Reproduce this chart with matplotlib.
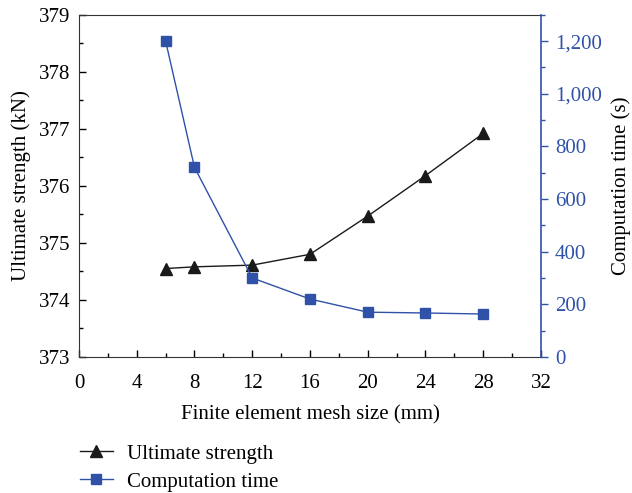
import matplotlib
matplotlib.use('Agg')
import matplotlib.pyplot as plt
from matplotlib.ticker import MultipleLocator, FuncFormatter
from matplotlib.lines import Line2D

plt.rcParams['font.family'] = ['Liberation Serif', 'DejaVu Serif']
plt.rcParams['font.size'] = 15

# mesh size (mm) vs. ultimate strength and computation time
mesh_size = [6, 8, 12, 16, 20, 24, 28]
ultimate_strength = [374.55, 374.58, 374.61, 374.80, 375.47, 376.18, 376.92]
computation_time = [1200, 720, 300, 220, 170, 167, 163]

blue = '#2f52a8'

fig = plt.figure(figsize=(6.32, 4.93), dpi=100)
ax = fig.add_axes([0.125, 0.276, 0.731, 0.694])
ax2 = ax.twinx()

ax.plot(mesh_size, ultimate_strength, color='#1a1a1a', lw=1.0,
        marker='^', markersize=8, zorder=3)
ax2.plot(mesh_size, computation_time, color=blue, lw=1.0,
         marker='s', markersize=7)

ax.set_xlim(0, 32)
ax.set_ylim(373, 379)
ax2.set_ylim(0, 1300)

ax.xaxis.set_major_locator(MultipleLocator(4))
ax.xaxis.set_minor_locator(MultipleLocator(2))
ax.yaxis.set_major_locator(MultipleLocator(1))
ax.yaxis.set_minor_locator(MultipleLocator(0.5))
ax2.yaxis.set_major_locator(MultipleLocator(200))
ax2.yaxis.set_minor_locator(MultipleLocator(100))
ax2.yaxis.set_major_formatter(FuncFormatter(lambda v, p: f'{int(v):,}'))

ax.tick_params(axis='both', which='major', direction='in', length=5, width=1)
ax.tick_params(axis='both', which='minor', direction='in', length=3, width=1)
ax.tick_params(axis='x', pad=12)
ax.tick_params(axis='y', pad=6)
ax2.tick_params(axis='y', which='major', direction='out', length=5, width=1,
                colors=blue, labelcolor=blue, pad=5)
ax2.tick_params(axis='y', which='minor', direction='out', length=3, width=1,
                colors=blue)

for s in ['left', 'bottom', 'top']:
    ax.spines[s].set_color('#333333')
ax.spines['right'].set_visible(False)
ax2.spines['left'].set_visible(False)
ax2.spines['top'].set_visible(False)
ax2.spines['bottom'].set_visible(False)
ax2.spines['right'].set_color(blue)
ax2.spines['right'].set_linewidth(1.2)

ax.set_xlabel('Finite element mesh size (mm)', labelpad=9)
ax.set_ylabel('Ultimate strength (kN)', labelpad=6)
ax2.set_ylabel('Computation time (s)', labelpad=7)

handles = [
    Line2D([], [], color='#1a1a1a', lw=1.0, marker='^', markersize=8),
    Line2D([], [], color=blue, lw=1.0, marker='s', markersize=7),
]
fig.legend(handles, ['Ultimate strength', 'Computation time'],
           loc='upper left', bbox_to_anchor=(0.126, 0.099), frameon=False,
           handlelength=1.6, handletextpad=0.65, labelspacing=0.4,
           borderaxespad=0, borderpad=0)

fig.savefig('out.png', dpi=100)
